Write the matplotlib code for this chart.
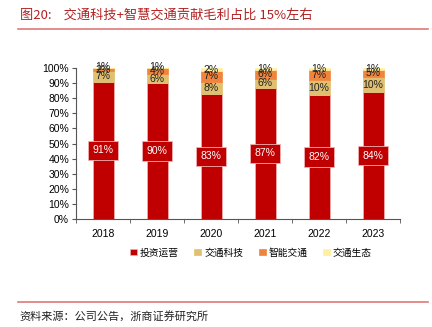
import matplotlib
matplotlib.use("Agg")
import matplotlib.pyplot as plt
import numpy as np

plt.rcParams['font.family'] = ['Liberation Sans', 'Noto Sans CJK SC', 'DejaVu Sans']

years = ['2018', '2019', '2020', '2021', '2022', '2023']
series = ['投资运营', '交通科技', '智能交通', '交通生态']
invest = [91, 90, 83, 87, 82, 84]
tech = [7, 6, 8, 6, 10, 10]
smart = [2, 4, 7, 6, 7, 5]
eco = [1, 1, 2, 1, 1, 1]
colors = ['#C00000', '#E0C070', '#F0843C', '#FFF0A0']

fig = plt.figure(figsize=(4.32, 3.27), dpi=100)
ax = fig.add_axes([0.176, 0.330, 0.75, 0.462])

x = np.arange(len(years))
w = 0.39
data = [invest, tech, smart, eco]
bottom = np.zeros(len(years))
for vals, col, name in zip(data, colors, series):
    vals = np.array(vals, dtype=float)
    ax.bar(x, vals, w, bottom=bottom, color=col, label=name,
           edgecolor='#F2B0B0' if col == '#C00000' else col, linewidth=0.5, zorder=2)
    if name != '投资运营':
        for xi, b, v in zip(x, bottom, vals):
            ax.text(xi, b + v / 2, f'{int(v)}%', ha='center', va='center',
                    fontsize=7.5, color='#222222', zorder=4)
    bottom += vals

# red boxed labels for the main segment
for xi, v in zip(x, invest):
    ax.text(xi, v / 2, f'{v}%', ha='center', va='center', fontsize=7.5, color='white',
            zorder=5, bbox=dict(boxstyle='square,pad=0.45', facecolor='#C00000',
                                edgecolor='#F2B0B0', linewidth=0.6))

ax.set_xlim(-0.5, len(years) - 0.5)
ax.set_ylim(0, 100)
ax.set_yticks(np.arange(0, 101, 10))
ax.set_yticklabels([f'{t}%' for t in range(0, 101, 10)], fontsize=7.5)
ax.set_xticks(x)
ax.set_xticklabels(years, fontsize=7.5)
ax.tick_params(axis='x', length=0, pad=7)
ax.set_xticks(np.arange(-0.5, len(years), 1), minor=True)
ax.tick_params(axis='x', which='minor', length=3, color='#555555')
ax.tick_params(axis='y', length=3, color='#555555', pad=2)
for s in ['top', 'right']:
    ax.spines[s].set_visible(False)
for s in ['left', 'bottom']:
    ax.spines[s].set_color('#555555')
    ax.spines[s].set_linewidth(0.8)

leg = ax.legend(loc='upper center', bbox_to_anchor=(0.54, -0.13), ncol=4, frameon=False,
                prop={'family': ['Noto Sans CJK SC'], 'size': 7}, handlelength=0.7,
                handleheight=0.7, handletextpad=0.3, columnspacing=1.6)

fig.text(0.046, 0.953, '图20:    交通科技+智慧交通贡献毛利占比 15%左右', fontsize=9.5,
         color='#B22222', va='center', family=['Noto Sans CJK SC', 'DejaVu Sans'])
fig.add_artist(plt.Line2D([0.042, 0.99], [0.911, 0.911], color='#E07878', linewidth=1.2))
fig.add_artist(plt.Line2D([0.042, 0.99], [0.076, 0.076], color='#E07878', linewidth=1.2))
fig.text(0.046, 0.034, '资料来源：公司公告，浙商证券研究所', fontsize=8, color='#222222',
         va='center', family=['Noto Sans CJK SC', 'DejaVu Sans'])

fig.savefig('out.png', dpi=100)
